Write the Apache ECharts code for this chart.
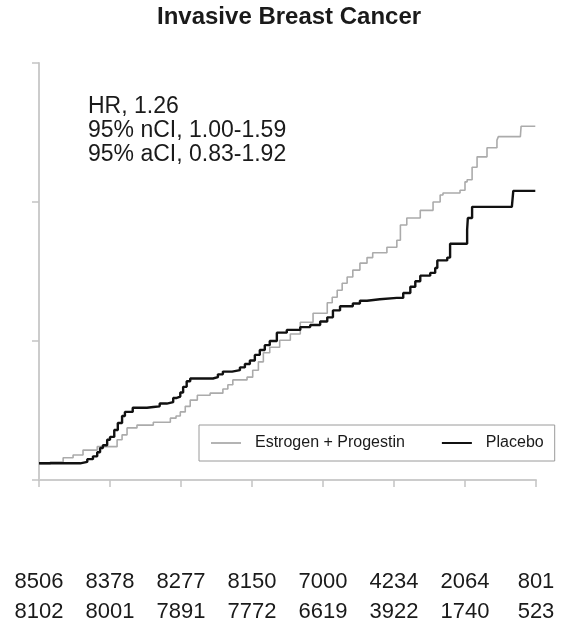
<!DOCTYPE html>
<html>
<head>
<meta charset="utf-8">
<script src="https://cdn.jsdelivr.net/npm/echarts@6/dist/echarts.min.js"></script>
<style>
  html, body { margin: 0; padding: 0; background: #fff; }
  #chart { width: 564px; height: 627px; }
</style>
</head>
<body>
<div id="chart"></div>
<script>
// Cumulative hazard of invasive breast cancer (%), by years since randomization
const epTime = [0,0.16,0.34,0.48,0.62,0.82,1.04,1.1,1.17,1.24,1.38,1.61,1.85,1.93,1.99,2.06,2.13,2.23,2.41,2.59,2.66,2.73,2.93,3.01,3.09,3.16,3.25,3.39,3.54,3.68,3.86,4.06,4.13,4.2,4.27,4.34,4.42,4.52,4.62,4.7,4.9,5.04,5.09,5.18,5.37,5.55,5.65,5.69,5.93,6.0,6.03,6.1,6.17,6.31,6.45,6.47,6.78,6.79,6.99];
const epHazard = [0.115,0.13,0.16,0.18,0.215,0.24,0.24,0.29,0.325,0.375,0.395,0.415,0.445,0.46,0.49,0.53,0.575,0.61,0.625,0.655,0.685,0.72,0.74,0.79,0.85,0.915,0.955,1.005,1.05,1.135,1.2,1.275,1.315,1.365,1.415,1.46,1.51,1.56,1.6,1.635,1.675,1.725,1.835,1.885,1.94,2.0,2.05,2.065,2.085,2.145,2.16,2.25,2.325,2.39,2.445,2.47,2.47,2.545,2.545];

const plTime = [0,0.2,0.58,0.68,0.76,0.82,0.86,0.9,0.96,1.0,1.06,1.11,1.17,1.21,1.32,1.52,1.61,1.7,1.8,1.89,1.94,1.99,2.03,2.08,2.13,2.27,2.45,2.52,2.59,2.72,2.83,2.9,2.97,3.04,3.11,3.18,3.25,3.35,3.49,3.68,3.82,3.96,4.06,4.14,4.24,4.42,4.52,4.62,4.8,5.04,5.13,5.23,5.3,5.37,5.51,5.58,5.61,5.75,5.79,6.0,6.03,6.04,6.1,6.66,6.68,6.99];
const plHazard = [0.12,0.12,0.13,0.15,0.17,0.2,0.23,0.25,0.29,0.31,0.36,0.41,0.46,0.49,0.52,0.525,0.53,0.55,0.56,0.59,0.6,0.63,0.67,0.71,0.73,0.73,0.74,0.76,0.78,0.79,0.81,0.835,0.86,0.9,0.935,0.97,1.0,1.06,1.08,1.1,1.115,1.14,1.17,1.22,1.25,1.27,1.29,1.3,1.31,1.31,1.345,1.39,1.43,1.47,1.49,1.525,1.58,1.6,1.7,1.7,1.8,1.885,1.965,1.965,2.08,2.08];

// Numbers at risk at each year
const years = [0,1,2,3,4,5,6,7];
const epAtRisk = [8506,8378,8277,8150,7000,4234,2064,801];
const plAtRisk = [8102,8001,7891,7772,6619,3922,1740,523];

const seriesNames = ['Estrogen + Progestin', 'Placebo'];
const statsText = ['HR, 1.26', '95% nCI, 1.00-1.59', '95% aCI, 0.83-1.92'];

const FONT = '"Liberation Sans", Arial, Helvetica, sans-serif';
const pairs = (t, v) => t.map((x, i) => [x, v[i]]);

const chart = echarts.init(document.getElementById('chart'), null, { renderer: 'canvas' });

chart.setOption({
  backgroundColor: '#ffffff',
  animation: false,
  title: {
    text: 'Invasive Breast Cancer',
    left: 157,
    top: 5,
    padding: 0,
    textStyle: { fontFamily: FONT, fontSize: 24, fontWeight: 'bold', color: '#1a1a1a', lineHeight: 24 }
  },
  grid: { left: 39, right: 28, top: 63, bottom: 147, containLabel: false },
  legend: {
    data: [
      { name: seriesNames[0], icon: 'rect', itemStyle: { color: '#b4b4b4' } },
      { name: seriesNames[1], icon: 'rect', itemStyle: { color: '#111111' } }
    ],
    left: 199,
    top: 425,
    orient: 'horizontal',
    padding: [10, 11, 10, 12],
    itemGap: 37,
    itemWidth: 30,
    itemHeight: 2,
    borderColor: '#9a9a9a',
    borderWidth: 1,
    borderRadius: 0,
    textStyle: { fontFamily: FONT, fontSize: 16, color: '#1a1a1a', lineHeight: 16, padding: [0, 0, 0, 9] }
  },
  xAxis: [
    {
      type: 'value',
      min: 0, max: 7, interval: 1,
      axisLine: { show: true, lineStyle: { color: '#cccccc', width: 2 } },
      axisTick: { show: true, length: 7, lineStyle: { color: '#c4c4c4', width: 1.5 } },
      axisLabel: { show: false },
      splitLine: { show: false }
    },
    {
      type: 'value',
      min: 0, max: 7, interval: 1,
      position: 'bottom',
      offset: 87,
      axisLine: { show: false },
      axisTick: { show: false },
      splitLine: { show: false },
      axisLabel: {
        show: true,
        margin: 0,
        showMinLabel: true,
        showMaxLabel: true,
        fontFamily: FONT,
        fontSize: 22,
        lineHeight: 30,
        color: '#1a1a1a',
        formatter: (v) => {
          const i = years.indexOf(Math.round(v));
          return i < 0 ? '' : epAtRisk[i] + '\n' + plAtRisk[i];
        }
      }
    }
  ],
  yAxis: {
    type: 'value',
    min: 0, max: 3, interval: 1,
    axisLine: { show: true, lineStyle: { color: '#cccccc', width: 2 } },
    axisTick: { show: true, length: 7, lineStyle: { color: '#c4c4c4', width: 1.5 } },
    axisLabel: { show: false },
    splitLine: { show: false }
  },
  graphic: [
    {
      type: 'text',
      left: 88,
      top: 95,
      style: {
        text: statsText.join('\n'),
        font: '23px ' + FONT,
        lineHeight: 24,
        fill: '#1a1a1a'
      }
    }
  ],
  series: [
    {
      name: seriesNames[0],
      type: 'line',
      step: 'end',
      symbol: 'none',
      xAxisIndex: 0,
      data: pairs(epTime, epHazard),
      lineStyle: { color: '#ababab', width: 1.6 },
      itemStyle: { color: '#ababab' },
      z: 2
    },
    {
      name: seriesNames[1],
      type: 'line',
      step: 'end',
      symbol: 'none',
      xAxisIndex: 0,
      data: pairs(plTime, plHazard),
      lineStyle: { color: '#111111', width: 2.4 },
      itemStyle: { color: '#111111' },
      z: 3
    }
  ]
});
</script>
</body>
</html>
